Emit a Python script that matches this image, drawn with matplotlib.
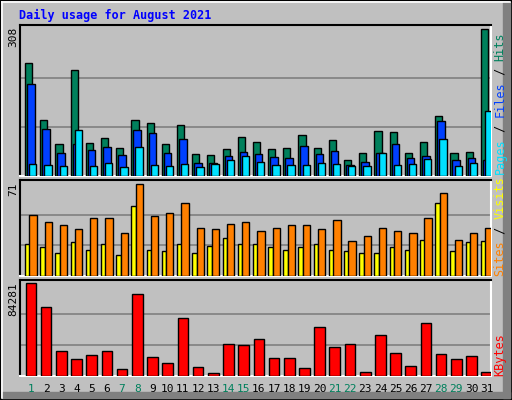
import matplotlib
matplotlib.use("Agg")
import matplotlib.pyplot as plt
from matplotlib.patches import Rectangle

days = list(range(1, 32))
weekend = [1, 7, 8, 14, 15, 21, 22, 28, 29]
hits = [237, 117, 67, 222, 69, 80, 59, 117, 111, 67, 107, 46, 44, 57, 82, 71,
        57, 59, 86, 59, 75, 34, 48, 94, 92, 48, 71, 126, 48, 50, 308]
files = [193, 98, 48, 67, 55, 61, 44, 96, 90, 48, 78, 27, 27, 42, 50, 46,
         40, 38, 63, 46, 52, 23, 29, 48, 67, 38, 42, 115, 34, 38, 34]
pages = [25, 23, 21, 96, 21, 27, 19, 61, 23, 21, 25, 19, 25, 34, 42, 29,
         23, 23, 23, 27, 25, 21, 21, 48, 23, 25, 36, 78, 21, 27, 136]
visits = [47, 42, 39, 36, 45, 45, 33, 71, 46, 49, 56, 37, 36, 40, 42, 35,
          37, 39, 39, 36, 43, 27, 31, 37, 35, 33, 45, 64, 28, 33, 37]
sites = [25, 22, 18, 26, 20, 25, 16, 54, 20, 19, 25, 18, 23, 29, 25, 25,
         22, 20, 22, 25, 20, 19, 18, 18, 22, 20, 28, 56, 19, 26, 27]
kbytes = [84281, 62830, 22680, 15320, 19000, 22680, 6130, 74170, 17160, 11650,
          53020, 7970, 2450, 29120, 28200, 33710, 16240, 16240, 7050, 44750,
          26360, 29120, 3370, 37390, 20840, 8890, 48430, 19920, 15320, 18080, 3370]

W, H = 512, 400
BG = "#C0C0C0"
fig = plt.figure(figsize=(W / 100, H / 100), dpi=100, facecolor=BG)
mono = "DejaVu Sans Mono"

def fr(x0, y0, x1, y1):
    return [x0 / W, 1 - y1 / H, (x1 - x0) / W, (y1 - y0) / H]

bgax = fig.add_axes([0, 0, 1, 1])
bgax.set_xlim(0, W); bgax.set_ylim(H, 0); bgax.axis("off")
bgax.add_patch(Rectangle((0, 0), W - 1, H - 1, fill=False, ec="black", lw=1.5))
bgax.plot([1.5, W - 2], [1.5, 1.5], color="white", lw=1.2)
bgax.plot([1.5, 1.5], [1.5, H - 2], color="white", lw=1.2)
bgax.add_patch(Rectangle((W - 9, 2), 7, H - 4, color="#808080"))
bgax.add_patch(Rectangle((2, H - 8), W - 4, 6, color="#808080"))
fig.text(19 / W, 1 - 15 / H, "Daily usage for August 2021", color="#0000FF",
         family=mono, weight="bold", fontsize=8.5, va="center", ha="left")

def panel(y0, y1, top):
    ax = fig.add_axes(fr(20, y0, 491, y1))
    ax.set_facecolor(BG)
    ax.set_xlim(0.5, 31.5)
    ax.set_ylim(0, top)
    ax.set_xticks([]); ax.set_yticks([])
    for s in ["top", "left"]:
        ax.spines[s].set_color("black"); ax.spines[s].set_linewidth(1.5)
    for s in ["bottom", "right"]:
        ax.spines[s].set_color("white"); ax.spines[s].set_linewidth(1.5)
    return ax

def bars(ax, vals, off, w, color):
    ax.bar([d - 0.5 + off for d in days], vals, width=w, align="edge",
           color=color, edgecolor="black", linewidth=1, zorder=3)

ax1 = panel(25, 176, max(hits) * 151 / 147)
for g in (1, 2):
    ax1.axhline(max(hits) * g / 3, color="#808080", lw=1.2, zorder=1)
bars(ax1, hits, 0.33, 0.47, "#00805C")
bars(ax1, files, 0.46, 0.5, "#0040FF")
bars(ax1, pages, 0.6, 0.48, "#00E0FF")

ax2 = panel(180, 276, max(visits) * 96 / 92)
for g in (1, 2):
    ax2.axhline(max(visits) * g / 3, color="#808080", lw=1.2, zorder=1)
bars(ax2, sites, 0.33, 0.31, "#FFFF00")
bars(ax2, visits, 0.62, 0.48, "#FF8000")

ax3 = panel(280, 376, max(kbytes) * 95 / 92)
for g in (1, 2):
    ax3.axhline(max(kbytes) * g / 3, color="#808080", lw=1.2, zorder=1)
bars(ax3, kbytes, 0.37, 0.7, "#FF0000")

for y, txt in [(27, str(max(hits))), (182, str(max(visits))), (282, str(max(kbytes)))]:
    fig.text(13 / W, 1 - y / H, txt, rotation=90, family=mono, fontsize=8,
             va="top", ha="center", color="black")

def vlabel(ybottom, parts, fs=8.5):
    y = ybottom
    for txt, col in parts:
        fig.text(500 / W, 1 - y / H, txt, rotation=90, family=mono,
                 fontsize=fs, va="bottom", ha="center", color=col)
        y -= len(txt) * fs * 0.6 * 1.39

vlabel(174, [("Pages", "#00E0FF"), (" / ", "black"), ("Files", "#0040FF"),
             (" / ", "black"), ("Hits", "#00805C")])
vlabel(276, [("Sites", "#FF8000"), (" / ", "black"), ("Visits", "#FFFF00")])
vlabel(376, [("KBytes", "#FF0000")])

for d in days:
    xpix = 20 + (d - 0.5 - 0.5 + 0.72) * (471 / 31)
    fig.text(xpix / W, 1 - 389 / H, str(d), family=mono, fontsize=8,
             ha="center", va="center",
             color="#00805C" if d in weekend else "black")

fig.savefig("out.png", dpi=100, facecolor=BG)
